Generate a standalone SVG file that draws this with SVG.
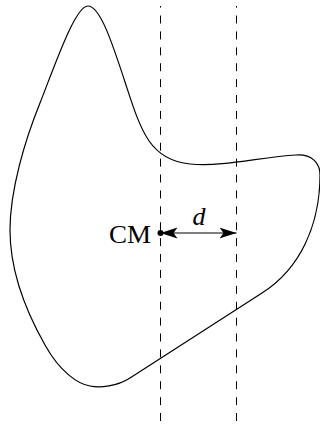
<svg xmlns="http://www.w3.org/2000/svg" width="320" height="426" viewBox="0 0 320 426">
<style>
.outline{fill:none;stroke:#000;stroke-width:1.2;stroke-linejoin:round}
.guide{fill:none;stroke:#000;stroke-width:1;stroke-dasharray:7.95 7.95}
.dim{fill:none;stroke:#000;stroke-width:1.1}
.lbl{font-family:"Liberation Serif","Times New Roman",serif;font-size:26px;fill:#000}
</style>
<defs>
<marker id="stealth" markerUnits="userSpaceOnUse" markerWidth="18" markerHeight="12" refX="17" refY="6" orient="auto-start-reverse" viewBox="0 0 18 12">
<path d="M17,6 L0,0.5 L4,6 L0,11.5 Z" fill="#000"/>
</marker>
</defs>
<rect width="320" height="426" fill="#fff"/>
<g id="body">
<path class="outline" d="M 88,6 C 100,6 112,42 126,85 C 141,131 150,160 190,164 C 225,167 260,157 296,155 C 312,154 320,163 320,175 C 320,225 300,269 262,293 L 130,378 C 117,386.5 100,388 90,386 C 78,384 60,372 45,345 C 28,315 10,275 10,230 C 10,190 25,140 40,103 C 55,65 75,6 88,6 Z"/>
</g>
<g id="guides">
<line class="guide" x1="160.5" y1="421" x2="160.5" y2="6"/>
<line class="guide" x1="236.5" y1="421" x2="236.5" y2="6"/>
</g>
<g id="connectors">
<line class="dim" x1="160.5" y1="233" x2="236.5" y2="233" marker-start="url(#stealth)" marker-end="url(#stealth)"/>
</g>
<g id="cm">
<circle cx="160.5" cy="233" r="3" fill="#000"/>
<text class="lbl" x="151" y="243" text-anchor="end" textLength="42" lengthAdjust="spacingAndGlyphs">CM</text>
</g>
<g id="d-label">
<text class="lbl" x="199" y="225" text-anchor="middle" font-style="italic" font-size="25">d</text>
</g>
</svg>
